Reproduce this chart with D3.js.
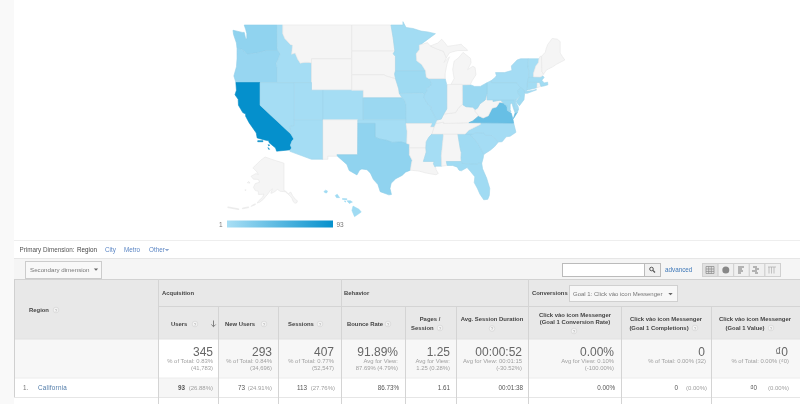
<!DOCTYPE html>
<html>
<head>
<meta charset="utf-8">
<style>
html,body{margin:0;padding:0;background:#fff;overflow:hidden}
svg{display:block;filter:blur(.3px)}
text{font-family:"Liberation Sans",Arial,sans-serif}
</style>
<script src="https://cdnjs.cloudflare.com/ajax/libs/d3/7.8.5/d3.min.js"></script>
</head>
<body>
<svg id="chart" width="800" height="404"></svg>
<script>
// users per region, read off the map shading (no entry = no data, grey)
var regionUsers = {CA:93,VA:38,WA:15,TX:15,OR:11,KS:9,OH:9,IA:7,MD:7,GA:6,FL:6,NJ:6,CT:5,MA:5,MN:5,NC:4,
  SC:4,IL:4,MO:3,OK:3,AZ:3,CO:3,UT:3,NV:3,ID:3,NY:4,PA:3,VT:3,MS:3,DE:4,DC:6};
var legendLabels = ["1","93"];

// lon,lat outlines, they go through the d3 projections below
var stateRings = {
WA:["-124.7,48.4 -123.1,48.15 -122.75,48.15 -122.5,47.4 -122.3,47.4 -122.3,48 -122.5,48.5 -122.75,49 -117.03,49 -117.04,46.42 -116.92,46 -118.98,46 -119.3,45.93 -120.5,45.7 -121.2,45.65 -122.3,45.55 -122.8,45.9 -123.2,46.15 -124,46.25 -124.1,46.9 -124.6,47.9"],
OR:["-124,46.25 -123.2,46.15 -122.8,45.9 -122.3,45.55 -121.2,45.65 -120.5,45.7 -119.3,45.93 -118.98,46 -116.92,46 -116.46,45.6 -116.85,44.95 -117.2,44.4 -117.03,43.85 -117.03,42 -124.2,42 -124.55,42.85 -124.1,44 -124,45"],
CA:["-124.2,42 -120,42 -120,39 -114.63,35 -114.14,34.3 -114.45,34 -114.72,33.4 -114.52,33 -114.72,32.72 -117.12,32.53 -117.3,33 -118.4,33.75 -118.5,34.03 -119.2,34.15 -120.5,34.45 -120.65,35.15 -121.9,36.6 -122.5,37.5 -122.5,37.8 -123,38 -123.75,39 -123.8,39.8 -124.35,40.4 -124.1,41",
  "-120.4,34.05 -119.5,34.05 -119.5,33.9 -120.4,33.9","-118.6,33.48 -118.3,33.4 -118.5,33.3","-118.6,33.05 -118.35,32.8 -118.5,32.8"],
NV:["-120,42 -114.04,42 -114.04,36.2 -114.75,36.1 -114.63,35 -120,39"],
ID:["-117.03,49 -116.05,49 -116.05,48 -115.7,47.45 -114.7,46.7 -114.35,46.65 -114.5,45.55 -113.9,45.7 -113.45,44.95 -113,44.45 -112.3,44.55 -111.5,44.55 -111.05,44.48 -111.05,42 -117.03,42 -117.03,43.85 -117.2,44.4 -116.85,44.95 -116.46,45.6 -116.92,46 -117.04,46.42"],
MT:["-116.05,49 -104.05,49 -104.05,45 -111.05,45 -111.05,44.48 -111.5,44.55 -112.3,44.55 -113,44.45 -113.45,44.95 -113.9,45.7 -114.5,45.55 -114.35,46.65 -114.7,46.7 -115.7,47.45 -116.05,48"],
WY:["-111.05,45 -104.05,45 -104.05,41 -111.05,41"],
UT:["-114.04,42 -111.05,42 -111.05,41 -109.05,41 -109.05,37 -114.04,37"],
CO:["-109.05,41 -102.05,41 -102.05,37 -109.05,37"],
AZ:["-114.04,37 -109.05,37 -109.05,31.33 -111.07,31.33 -114.81,32.5 -114.72,32.72 -114.52,33 -114.72,33.4 -114.45,34 -114.14,34.3 -114.63,35 -114.75,36.1 -114.04,36.2"],
NM:["-109.05,37 -103,37 -103.04,32 -106.62,32 -106.53,31.78 -108.2,31.78 -108.2,31.33 -109.05,31.33"],
ND:["-104.05,49 -97.23,49 -96.85,47.5 -96.56,45.94 -104.05,45.94"],
SD:["-104.05,45.94 -96.56,45.94 -96.85,45.6 -96.45,45.3 -96.45,43.5 -96.6,43.1 -96.44,42.49 -97.9,42.8 -98.5,43 -104.05,43"],
NE:["-104.05,43 -98.5,43 -97.9,42.8 -96.44,42.49 -96.1,41.7 -95.9,41.2 -95.77,40.58 -95.31,40 -102.05,40 -102.05,41 -104.05,41"],
KS:["-102.05,40 -95.31,40 -94.9,39.75 -94.61,39.1 -94.62,37 -102.05,37"],
OK:["-103,37 -94.62,37 -94.62,36.5 -94.43,35.4 -94.48,33.64 -95.5,33.88 -97,33.8 -98,34.1 -99.2,34.3 -100,34.56 -100,36.5 -103,36.5"],
TX:["-106.62,32 -103.04,32 -103,36.5 -100,36.5 -100,34.56 -99.2,34.3 -98,34.1 -97,33.8 -95.5,33.88 -94.48,33.64 -94.04,33.55 -94.04,32 -93.55,31.2 -93.7,30.6 -93.85,29.7 -94.7,29.4 -95.3,28.9 -96.4,28.4 -97.2,27.7 -97.4,26.9 -97.15,25.96 -97.6,25.9 -99.1,26.4 -99.5,27.5 -100.3,28.3 -100.8,29.25 -101.4,29.77 -102.3,29.88 -102.7,29.7 -103.15,28.98 -104.5,29.65 -104.9,30.55 -106.53,31.78"],
MN:["-97.23,49 -95.15,49 -95.15,49.38 -94.6,48.72 -93.4,48.6 -92,48.3 -90.8,48.2 -89.5,48 -91.5,47 -92.05,46.7 -92.3,46.66 -92.3,46.1 -92.85,45.6 -92.75,44.75 -91.9,44.3 -91.22,43.5 -96.45,43.5 -96.45,45.3 -96.85,45.6 -96.56,45.94 -96.85,47.5"],
IA:["-96.45,43.5 -91.22,43.5 -91.1,42.7 -90.64,42.5 -90.15,41.9 -90.35,41.55 -91.05,41.2 -90.95,40.9 -91.42,40.38 -91.73,40.61 -95.77,40.58 -95.9,41.2 -96.1,41.7 -96.44,42.49 -96.6,43.1"],
MO:["-95.77,40.58 -91.73,40.61 -91.42,40.38 -91.5,40 -90.7,39 -90.2,38.8 -90.2,38.4 -89.5,37.3 -89.15,36.98 -89.42,36.5 -89.7,36 -90.37,36 -90.15,36.5 -94.62,36.5 -94.62,37 -94.61,39.1 -94.9,39.75 -95.31,40"],
AR:["-94.62,36.5 -90.15,36.5 -90.37,36 -89.7,36 -90.1,35 -90.6,34.6 -91.1,33.9 -91.17,33 -94.04,33 -94.04,33.55 -94.48,33.64 -94.43,35.4"],
LA:["-94.04,33 -91.17,33 -91.1,32.4 -91.6,31 -89.73,31 -89.85,30.65 -89.6,30.2 -89.4,30.05 -89.4,29.8 -89,29.2 -89.4,29 -90.1,29.1 -91.3,29.3 -92.3,29.55 -93.85,29.7 -93.7,30.6 -93.55,31.2 -94.04,32"],
MS:["-91.17,33 -91.1,33.9 -90.6,34.6 -90.1,35 -88.2,35 -88.1,34.9 -88.47,31.9 -88.4,30.3 -89.4,30.3 -89.6,30.2 -89.85,30.65 -89.73,31 -91.6,31 -91.1,32.4"],
AL:["-88.2,35 -85.6,35 -85.18,32.87 -85,32.3 -85.05,31.55 -85,31 -87.6,31 -87.45,30.4 -88.4,30.3 -88.47,31.9 -88.1,34.9"],
GA:["-85.6,35 -83.1,35 -83.35,34.7 -82.9,34.5 -82,33.5 -81.4,32.6 -81.1,32.05 -81.2,31.5 -81.45,30.72 -82.05,30.75 -82.2,30.57 -84.86,30.7 -85,31 -85.05,31.55 -85,32.3 -85.18,32.87"],
FL:["-87.6,31 -85,31 -84.86,30.7 -82.2,30.57 -82.05,30.75 -81.45,30.72 -81.3,29.9 -80.6,28.5 -80.05,26.9 -80.13,25.8 -80.4,25.2 -81.1,25.13 -81.75,26 -82.2,26.9 -82.75,27.8 -82.65,28.7 -83.4,29.5 -84,30.1 -85,29.6 -85.4,29.7 -85.7,30.15 -86.5,30.4 -87.45,30.4"],
SC:["-83.35,34.7 -83.1,35 -82.3,35.2 -81.05,35.15 -80.8,34.82 -79.67,34.8 -78.55,33.86 -79.2,33.2 -79.9,32.7 -81.1,32.05 -81.4,32.6 -82,33.5 -82.9,34.5"],
NC:["-84.32,35 -83.1,35 -82.3,35.2 -81.05,35.15 -80.8,34.82 -79.67,34.8 -78.55,33.86 -77.9,33.9 -77.2,34.6 -76.5,34.7 -75.5,35.25 -75.9,36.55 -81.68,36.59 -81.7,36.35 -82.6,36 -83.7,35.55"],
TN:["-90.1,35 -88.2,35 -85.6,35 -84.32,35 -83.7,35.55 -82.6,36 -81.7,36.35 -81.68,36.59 -83.68,36.6 -88.07,36.5 -88.07,36.68 -89.42,36.5 -89.7,36"],
KY:["-89.42,36.5 -88.07,36.68 -88.07,36.5 -83.68,36.6 -83,36.85 -81.97,37.54 -82.6,38.17 -82.6,38.42 -83,38.73 -84.2,38.8 -84.8,39.1 -85.4,38.73 -86,38 -87,37.9 -88.05,37.8 -88.5,37.1 -89.15,36.98"],
VA:["-83.68,36.6 -81.68,36.59 -75.9,36.55 -76,37 -76.3,37.9 -77,38.3 -77.05,38.75 -77.12,38.93 -77.5,39.15 -77.72,39.32 -78.35,39.4 -78.87,38.77 -79.65,38.58 -80.3,37.55 -81.2,37.25 -81.97,37.54 -83,36.85","-75.95,37.15 -75.25,38.03 -75.65,37.95"],
WV:["-81.97,37.54 -81.2,37.25 -80.3,37.55 -79.65,38.58 -78.87,38.77 -78.35,39.4 -77.72,39.32 -78.2,39.7 -79.48,39.5 -79.48,39.72 -80.52,39.72 -80.52,40.64 -80.85,39.7 -81.75,39.2 -82.2,38.6 -82.6,38.42 -82.6,38.17"],
MD:["-79.48,39.72 -75.79,39.72 -75.7,38.46 -75.05,38.45 -75.25,38.03 -75.65,37.95 -75.95,38.6 -76.2,39.3 -76.5,39.15 -76.5,38.4 -76.35,38.05 -77,38.3 -77.05,38.75 -77.12,38.93 -77.5,39.15 -77.72,39.32 -78.2,39.7 -79.48,39.5"],
DE:["-75.79,39.72 -75.4,39.8 -75.55,39.45 -75.1,38.8 -75.05,38.45 -75.7,38.46"],
DC:["-77.12,38.93 -77.04,39 -76.95,38.9 -77.04,38.8"],
PA:["-80.52,41.98 -79.76,42.27 -79.76,42 -75.35,42 -75.05,41.6 -74.7,41.36 -75.1,41 -75.2,40.7 -74.75,40.2 -75.4,39.8 -75.79,39.72 -80.52,39.72"],
NY:["-79.76,42.27 -79.05,42.7 -78.9,42.9 -79.05,43.27 -77.5,43.27 -76.2,43.55 -76.3,44.1 -75.3,44.85 -74.7,45 -73.35,45 -73.4,44 -73.25,43.5 -73.27,42.75 -73.5,42.05 -73.5,41.3 -73.65,41 -73.75,40.85 -72.6,40.98 -72,41.1 -71.9,41.05 -73.5,40.6 -74,40.6 -74.05,41 -74.7,41.36 -75.05,41.6 -75.35,42 -79.76,42"],
NJ:["-74.7,41.36 -74.05,41 -74,40.55 -74.1,39.75 -74.9,38.93 -75.5,39.5 -74.75,40.2 -75.2,40.7 -75.1,41"],
CT:["-73.5,42.05 -71.8,42.02 -71.85,41.32 -73.65,41 -73.5,41.3"],
RI:["-71.8,42.02 -71.38,42.02 -71.15,41.5 -71.85,41.32"],
MA:["-73.27,42.75 -71.3,42.7 -70.85,42.88 -70.6,42.65 -71,42.3 -70.6,41.95 -70,42.05 -69.95,41.7 -70.65,41.55 -71.15,41.5 -71.38,42.02 -71.8,42.02 -73.5,42.05"],
VT:["-73.35,45 -71.5,45 -71.6,44.5 -72.05,44.1 -72.45,43.2 -72.45,42.73 -73.27,42.75 -73.25,43.5 -73.4,44"],
NH:["-71.5,45 -71.3,45.3 -71.05,45.3 -70.98,43.4 -70.7,43.07 -70.85,42.88 -71.3,42.7 -72.45,42.73 -72.45,43.2 -72.05,44.1 -71.6,44.5"],
ME:["-71.05,45.3 -70.4,45.8 -70.25,46.2 -70,46.7 -69.2,47.45 -68.3,47.35 -67.8,47.07 -67.8,45.7 -67.45,45.3 -67,44.85 -68.5,44.3 -69.1,44 -70.2,43.6 -70.7,43.07 -70.98,43.4"],
OH:["-84.82,41.7 -83.45,41.73 -82.7,41.5 -81.7,41.5 -80.52,41.98 -80.52,40.64 -80.85,39.7 -81.75,39.2 -82.2,38.6 -82.6,38.42 -83,38.73 -84.2,38.8 -84.8,39.1"],
IN:["-87.53,41.72 -87.2,41.75 -86.8,41.76 -84.82,41.76 -84.82,41.7 -84.8,39.1 -85.4,38.73 -86,38 -87,37.9 -88.05,37.8 -87.53,38.5 -87.53,39.35"],
IL:["-90.64,42.5 -87.8,42.5 -87.53,41.72 -87.53,38.5 -88.05,37.8 -88.5,37.1 -89.15,36.98 -89.5,37.3 -90.2,38.4 -90.2,38.8 -90.7,39 -91.5,40 -91.42,40.38 -90.95,40.9 -91.05,41.2 -90.35,41.55 -90.15,41.9"],
WI:["-92.05,46.7 -90.9,46.95 -90.4,46.55 -89.1,46.15 -88.1,45.9 -87.6,45.1 -88,44.55 -87.05,45.25 -87.5,44.3 -87.8,43.2 -87.8,42.5 -90.64,42.5 -91.1,42.7 -91.22,43.5 -91.9,44.3 -92.75,44.75 -92.85,45.6 -92.3,46.1 -92.3,46.66"],
MI:["-86.8,41.76 -84.82,41.76 -84.82,41.7 -83.45,41.73 -83.1,42.25 -82.45,43 -82.6,43.9 -83,44.07 -83.9,43.65 -83.3,44.5 -83.4,45.05 -84.7,45.78 -85.5,45.1 -86.25,44.7 -86.5,43.65 -86.25,42.5",
  "-90.4,46.55 -89.1,46.9 -88.4,47.35 -87.7,46.8 -87.4,46.5 -86,46.65 -85,46.75 -84.6,46.45 -84.1,46.2 -83.9,46 -84.7,46 -85.6,46 -86.5,45.85 -87.1,45.7 -87.6,45.1 -88.1,45.9 -89.1,46.15"]
};
var alaskaRings = ["-141,69.65 -141,60.3 -139.5,60 -137.5,59 -135.5,59.7 -134,58.2 -131.8,56.6 -130,55.9 -130.5,55 -132,54.7 -133.5,55.5 -134.5,57 -136,58 -138,59 -140,59.8 -144,60 -146.5,60.8 -148,60 -151,59.2 -151.8,59.2 -150.5,61 -152,60.5 -154,59 -156,57.8 -158,56.5 -161,55.2 -163,54.8 -161.5,56 -158.5,57.5 -157.5,58.8 -160,58.7 -162,58.7 -162,60 -164.5,60.3 -166,61.6 -164.5,63 -161,63.5 -162,64.5 -166,64.6 -168,65.6 -164,66.5 -162,66.2 -163.5,67.2 -166.5,68.3 -163,69.5 -160,70.5 -156.5,71.35 -152,70.85 -148,70.4 -144,70",
  "-168,53.2 -164.5,54 -164.5,54.5 -167,53.8","-175,52 -170,52.6 -170,53 -175,52.4","-187,52.6 -178,51.6 -178,52 -187,53","-172.5,60.2 -172,60.6 -173,60.6","-171,63.3 -168.8,63.2 -170,63.8"];
var hawaiiRings = ["-159.78,22.06 -159.55,22.23 -159.3,22.12 -159.4,21.88 -159.65,21.92","-158.27,21.57 -158,21.72 -157.68,21.3 -158.1,21.3","-157.3,21.2 -156.72,21.17 -156.72,21.05 -157.3,21.08","-156.7,20.9 -156.25,20.93 -155.98,20.75 -156.4,20.58","-157.05,20.9 -156.82,20.85 -156.95,20.74","-155.9,20.25 -155.1,19.85 -154.8,19.5 -155.7,18.92 -156.05,19.7"];

var columnNames = ["Users","New Users","Sessions","Bounce Rate"];
var totals = ["345","293","407","91.89%","1.25","00:00:52","0.00%","0","₫0"];
var totalNotes = [["% of Total: 0.83%","(41,783)"],["% of Total: 0.84%","(34,696)"],["% of Total: 0.77%","(52,547)"],
  ["Avg for View:","87.69% (4.79%)"],["Avg for View:","1.25 (0.28%)"],["Avg for View: 00:01:15","(-30.52%)"],
  ["Avg for View: 0.10%","(-100.00%)"],["% of Total: 0.00% (32)"],["% of Total: 0.00% (₫0)"]];
var rowValues = ["93","73","113","86.73%","1.61","00:01:38","0.00%","0","₫0"];
var rowShares = ["(26.88%)","(24.91%)","(27.76%)","","","","","(0.00%)","(0.00%)"];

var svg = d3.select("#chart");

function box(x,y,w,h,fill,stroke){
  return svg.append("rect").attr("x",x).attr("y",y).attr("width",w).attr("height",h)
    .attr("fill",fill).attr("stroke",stroke||"none");
}
function label(x,y,txt,size,color,anchor,weight){
  return svg.append("text").attr("x",x).attr("y",y).text(txt)
    .attr("font-size",size).attr("fill",color).attr("text-anchor",anchor||"start")
    .attr("font-weight",weight||"normal");
}
function hline(x1,x2,y,c){ svg.append("line").attr("x1",x1).attr("x2",x2).attr("y1",y).attr("y2",y).attr("stroke",c); }
function vline(x,y1,y2,c){ svg.append("line").attr("x1",x).attr("x2",x).attr("y1",y1).attr("y2",y2).attr("stroke",c); }
function help(x,y){
  svg.append("circle").attr("cx",x).attr("cy",y).attr("r",2.8).attr("fill","#f4f4f4").attr("stroke","#d4d4d4").attr("stroke-width",.7);
  label(x,y+1.7,"?",4.4,"#bbb","middle","bold");
}
function caret(x,y,c){
  svg.append("path").attr("d",d3.line()([[x-2.2,y-1],[x+2.2,y-1],[x,y+1.2]])+"Z").attr("fill",c||"#666");
}

// map
var lower = d3.geoMercator().scale(329.5).center([-124.7,49]).translate([233,25]);
var alaska = d3.geoMercator().rotate([150,0]).scale(70).center([9,70]).translate([284,162]);
var hawaii = d3.geoMercator().scale(430).center([-159.5,22]).translate([326,192]);

var color = d3.scaleLinear().domain([1,93]).range(["#a9dff5","#0590cc"]);
var noData = "#f5f5f5";
var ringLine = d3.line().curve(d3.curveLinearClosed);

function parseRing(s){ return s.split(" ").map(function(p){ return p.split(",").map(Number); }); }
function ringsPath(rings,proj){
  return rings.map(function(r){ return ringLine(parseRing(r).map(function(c){ return proj(c); })); }).join("");
}

var map = svg.append("g");
map.selectAll("path.state").data(Object.keys(stateRings)).enter().append("path")
  .attr("class","state")
  .attr("d",function(k){ return ringsPath(stateRings[k],lower); })
  .attr("fill",function(k){ return regionUsers[k] ? color(regionUsers[k]) : noData; })
  .attr("stroke",function(k){ return regionUsers[k] ? d3.color(color(regionUsers[k])).darker(.1) : "#e6e6e6"; })
  .attr("stroke-width",.6).attr("stroke-linejoin","round");
map.append("path").attr("d",ringsPath(alaskaRings,alaska)).attr("fill",noData).attr("stroke","#e6e6e6").attr("stroke-width",.6);
map.append("path").attr("d",ringsPath(hawaiiRings,hawaii)).attr("fill",color(6)).attr("stroke",color(9)).attr("stroke-width",.5);

// colour legend
var grad = svg.append("defs").append("linearGradient").attr("id","legendGrad");
grad.selectAll("stop").data(color.domain()).enter().append("stop")
  .attr("offset",function(d,i){ return i*100+"%"; }).attr("stop-color",function(d){ return color(d); });
var legendX = d3.scaleLinear().domain([1,93]).range([227,333]);
box(legendX(1),220.5,legendX(93)-legendX(1),7,"url(#legendGrad)");
label(legendX(1)-4.5,226.5,legendLabels[0],6.5,"#777","end");
label(legendX(93)+3.5,226.5,legendLabels[1],6.5,"#777");

// page frame
box(0,0,14,404,"#f9f9f9");
hline(14,800,240.5,"#eee");
hline(14,800,258.5,"#e6e6e6");
box(14,259,786,20,"#f5f5f5");

// toolbar
label(19.5,252,"Primary Dimension:",6.3,"#555");
label(77,252,"Region",6.3,"#444");
label(105,252,"City",6.3,"#5a85c4");
label(124,252,"Metro",6.3,"#5a85c4");
label(149,252,"Other",6.3,"#5a85c4");
caret(167,250,"#8aa6d0");
box(25.5,261.5,76,17,"#f8f8f8","#ccc");
label(30,272,"Secondary dimension",6.2,"#777");
caret(96,269.5);
box(562.5,263.5,82,13,"#fff","#bbb");
box(644.5,263.5,16,13,"#f1f1f1","#bbb");
svg.append("circle").attr("cx",651.5).attr("cy",269).attr("r",1.8).attr("fill","none").attr("stroke","#555").attr("stroke-width",1);
svg.append("line").attr("x1",653).attr("y1",270.5).attr("x2",655).attr("y2",272.5).attr("stroke","#555").attr("stroke-width",1.2);
label(665,271.5,"advanced",6.3,"#3f78b8");

var viewX = d3.range(5).map(function(i){ return 702+i*15.6; });
viewX.forEach(function(x,i){
  box(x+.5,263.5,15.6,13,i==0?"#e2e2e2":"#f0f0f0","#d0d0d0");
});
svg.append("path").attr("fill","none").attr("stroke","#888").attr("stroke-width",.7)
  .attr("d","M706 266.5h8v7h-8zM706 269h8M706 271.4h8M708.7 266.5v7M711.3 266.5v7");
svg.append("circle").attr("cx",725.8).attr("cy",270).attr("r",3.5).attr("fill","#888");
svg.append("path").attr("stroke","#777").attr("stroke-width",1.1).attr("d","M738 267h6M738 269h4M738 271h5M738 273h3");
svg.append("path").attr("stroke","#777").attr("stroke-width",1.1).attr("d","M753 267h4M755 269h4M752 271h5M755 273h3");
svg.append("path").attr("fill","none").attr("stroke","#aaa").attr("stroke-width",.7).attr("d","M768 267h8M769 267v6.5M771.5 267v6.5M774 267v6.5");

// table
var colEdges = [14,158,218,278,341,405,456,528,621,711,800];
box(14.5,279.5,785.5,59.5,"#e8e8e8");
box(14.5,339,785.5,39,"#f7f7f7");
box(158,339,60,39,"#fff");
box(158,378,60,19,"#f6f6f6");
hline(14,800,279.5,"#d2d2d2");
hline(158,800,306.5,"#d4d4d4");
hline(14,800,339,"#e2e2e2");
hline(14,800,378,"#ececec");
hline(14,800,397.5,"#e6e6e6");
vline(14.5,279,397,"#d0d0d0");
colEdges.slice(1,-1).forEach(function(x){
  var onGroupRow = x==158||x==341||x==528;
  vline(x+.5,onGroupRow?279:306,404,"#d4d4d4");
});

var headC = "#444", headS = 5.9;
label(29,312,"Region",headS,headC,"start","bold"); help(56,310);
label(162,294.5,"Acquisition",headS,headC,"start","bold");
label(344,294.5,"Behavior",headS,headC,"start","bold");
label(532,294.5,"Conversions",headS,headC,"start","bold");
box(569.5,285.5,108,16,"#f7f7f7","#d0d0d0");
label(573,296,"Goal 1: Click vào icon Messenger",6,"#777");
caret(670.5,294);

label(171,326,columnNames[0],headS,headC,"start","bold"); help(195,324);
svg.append("path").attr("stroke","#666").attr("stroke-width",.8).attr("fill","none").attr("d","M213.5 320.5v6M211.3 324.5l2.2 2.2l2.2-2.2");
label(225,326,columnNames[1],headS,headC,"start","bold"); help(264,324);
label(288,326,columnNames[2],headS,headC,"start","bold"); help(320,324);
label(347,326,columnNames[3],headS,headC,"start","bold"); help(388,324);
label(430,320.5,"Pages /",headS,headC,"middle","bold");
label(411,330,"Session",headS,headC,"start","bold"); help(440,328);
label(492,320.5,"Avg. Session Duration",headS,headC,"middle","bold"); help(492,328.5);
label(575,317,"Click vào icon Messenger",headS,headC,"middle","bold");
label(575,324,"(Goal 1 Conversion Rate)",headS,headC,"middle","bold"); help(574,331);
label(666,320.5,"Click vào icon Messenger",headS,headC,"middle","bold");
label(659,330,"(Goal 1 Completions)",headS,headC,"middle","bold"); help(695,328);
label(755,320.5,"Click vào icon Messenger",headS,headC,"middle","bold");
label(745,330,"(Goal 1 Value)",headS,headC,"middle","bold"); help(771,328);

var totalRight = [213,272,334,398,450,522,614,705,788];
totals.forEach(function(t,i){
  label(totalRight[i],355.5,t,12,"#666","end");
  totalNotes[i].forEach(function(n,j){
    label(totalRight[i]+(i>=7?1:0),363+j*7,n,5.9,"#a0a0a0","end");
  });
});

label(23,389.5,"1.",6.3,"#777");
label(38,389.5,"California",6.3,"#4f7aa8").attr("letter-spacing",.25);
var valueRight = [185,245,307,399,450,523,615,678,757];
var shareRight = [213,272,335,0,0,0,0,707,789];
rowValues.forEach(function(v,i){
  label(valueRight[i],389.5,v,6.3,"#555","end",i==0?"bold":"normal");
  if(rowShares[i]) label(shareRight[i],389.5,rowShares[i],6,"#a0a0a0","end");
});
</script>
</body>
</html>
